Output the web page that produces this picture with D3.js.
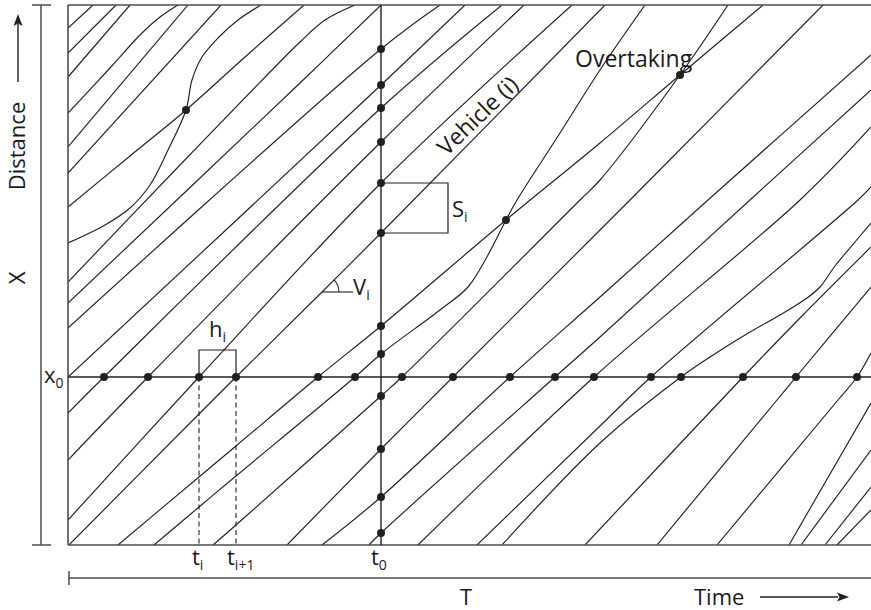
<!DOCTYPE html>
<html>
<head>
<meta charset="utf-8">
<script src="https://cdn.jsdelivr.net/npm/d3@7"></script>
<style>
  html, body { margin: 0; padding: 0; background: #fff; }
  svg text { font-family: "Open Sans", "Noto Sans", sans-serif; fill: #1a1a1a; font-weight: 500; }
</style>
</head>
<body>
<svg id="chart" width="871" height="610"></svg>
<script>
// ---- data (time t, distance x) in diagram units ----
const tMax = 803, xMax = 540;
const x0 = 168;          // observation location x0
const t0 = 313;          // observation instant t0

// vehicle trajectories: [t, x] points
const vehicleTrajectories = [
  [[0,517],[25,540]],
  [[0,492],[48,540]],
  [[0,468],[62,540]],
  [[0,432],[42,477],[72,510],[92,528],[110,540]],
  [[0,398],[120,540]],
  [[0,372],[153,540]],
  [[0,338],[62,389],[118,435],[177,488],[236,540]],
  [[0,302],[37,320],[62,337],[82,360],[100,395],[118,435],[124,465],[134,488],[150,507],[170,525],[193,540]],
  [[0,263],[112,380],[202,473],[232,503],[257,525],[287,540]],
  [[0,242],[232,462],[313,540]],
  [[0,217],[313,496],[372,540]],
  [[0,168],[313,460],[397,540]],
  [[0,132],[36,168],[313,437],[434,540]],
  [[0,85],[80,168],[313,403],[456,540]],
  [[0,25],[131,168],[313,362],[504,540]],
  [[1,0],[131,131],[168,168],[254,253],[313,312],[537,540]],
  [[50,0],[131,68],[168,99],[250,168],[313,219],[438,325],[532,402],[612,470],[695,540]],
  [[86,0],[131,38],[168,69],[287,168],[313,191],[372,235],[400,258],[420,290],[438,325],[449,345],[492,412],[532,475],[577,540]],
  [[145,0],[168,20],[313,149],[334,168],[512,345],[532,365],[612,470],[660,540]],
  [[219,0],[313,96],[385,168],[532,315],[562,345],[755,540]],
  [[254,0],[313,48],[442,168],[532,248],[640,345],[803,490]],
  [[301,0],[313,12],[487,168],[532,208],[682,345],[803,455]],
  [[350,0],[526,168],[732,345],[803,418]],
  [[409,0],[532,119],[583,168],[790,345],[803,358]],
  [[434,0],[532,102],[613,168],[642,188],[682,213],[712,230],[739,247],[752,258],[767,279],[792,309],[803,322]],
  [[517,0],[675,168],[732,227],[803,298]],
  [[589,0],[709,145],[728,168],[803,258]],
  [[649,0],[770,145],[789,168],[803,192]],
  [[721,0],[803,142]],
  [[733,0],[803,95]],
  [[757,0],[803,58]],
  [[769,0],[803,35]]
];

// passage times at x0 (headway observations)
const headwayTimes = [36, 80, 131, 168, 250, 287, 334, 385, 442, 487, 526, 583, 613, 675, 728, 789];
// positions at t0 (spacing observations)
const spacingPositions = [496, 460, 437, 403, 362, 312, 219, 191, 149, 96, 48, 12];
// overtaking events
const overtakingPoints = [[118, 435], [438, 325], [612, 470]];
// annotated pairs
const headwayPair = [131, 168];   // t_i, t_i+1
const spacingPair = [362, 312];   // s_i between consecutive vehicles at t0
const speedVertex = [254, 253];   // point where V_i angle is shown

// ---- scales ----
const T = d3.scaleLinear().domain([0, tMax]).range([68, 871]);
const X = d3.scaleLinear().domain([0, xMax]).range([545, 5]);

const svg = d3.select("#chart");
const ink = "#231f20";

svg.append("defs").append("clipPath").attr("id", "plotclip")
  .append("rect").attr("x", T(0)).attr("y", X(xMax)).attr("width", T(tMax) - T(0)).attr("height", X(0) - X(xMax));

// trajectories
const line = d3.line().x(d => T(d[0])).y(d => X(d[1])).curve(d3.curveCatmullRom.alpha(0.5));
svg.append("g").attr("clip-path", "url(#plotclip)")
  .selectAll("path").data(vehicleTrajectories).join("path")
  .attr("d", line).attr("fill", "none").attr("stroke", ink).attr("stroke-width", 1.15);

// frame
const frame = svg.append("g").attr("stroke", "#4d4d4f").attr("stroke-width", 1.6).attr("fill", "none");
frame.append("line").attr("x1", T(0)).attr("x2", T(tMax)).attr("y1", X(xMax)).attr("y2", X(xMax));
frame.append("line").attr("x1", T(0)).attr("x2", T(tMax)).attr("y1", X(0)).attr("y2", X(0));
frame.append("line").attr("x1", T(0)).attr("x2", T(0)).attr("y1", X(0)).attr("y2", X(xMax));
// x0 and t0 reference lines
frame.append("line").attr("x1", T(0)).attr("x2", T(tMax)).attr("y1", X(x0)).attr("y2", X(x0)).attr("stroke", ink).attr("stroke-width", 1.4);
frame.append("line").attr("x1", T(t0)).attr("x2", T(t0)).attr("y1", X(0)).attr("y2", X(xMax)).attr("stroke", ink).attr("stroke-width", 1.4);

// dashed t_i lines
svg.append("g").selectAll("line").data(headwayPair).join("line")
  .attr("x1", d => T(d)).attr("x2", d => T(d)).attr("y1", X(x0)).attr("y2", X(0))
  .attr("stroke", ink).attr("stroke-width", 1.1).attr("stroke-dasharray", "5,3.5");

// h_i bracket
const hTop = X(x0) - 27;
svg.append("path")
  .attr("d", `M${T(headwayPair[0])},${X(x0)} V${hTop} H${T(headwayPair[1])} V${X(x0)}`)
  .attr("fill", "none").attr("stroke", ink).attr("stroke-width", 1.2);
// S_i bracket
const sRight = T(t0) + 67;
svg.append("path")
  .attr("d", `M${T(t0)},${X(spacingPair[0])} H${sRight} V${X(spacingPair[1])} H${T(t0)}`)
  .attr("fill", "none").attr("stroke", ink).attr("stroke-width", 1.2);

// V_i angle
const vx = T(speedVertex[0]), vy = X(speedVertex[1]);
svg.append("line").attr("x1", vx).attr("x2", vx + 31).attr("y1", vy).attr("y2", vy).attr("stroke", ink).attr("stroke-width", 1.1);
const r = 17, a = Math.PI / 4;
svg.append("path").attr("d", `M${vx + r},${vy} A${r},${r} 0 0 0 ${vx + r * Math.cos(a)},${vy - r * Math.sin(a)}`)
  .attr("fill", "none").attr("stroke", ink).attr("stroke-width", 1.1);

// dots
const dots = [];
headwayTimes.forEach(t => dots.push([t, x0]));
spacingPositions.forEach(x => dots.push([t0, x]));
overtakingPoints.forEach(p => dots.push(p));
svg.append("g").selectAll("circle").data(dots).join("circle")
  .attr("cx", d => T(d[0])).attr("cy", d => X(d[1])).attr("r", 4).attr("fill", ink);

// left distance bracket
const yb = svg.append("g").attr("stroke", "#4d4d4f").attr("stroke-width", 1.5);
yb.append("line").attr("x1", 41).attr("x2", 41).attr("y1", X(xMax)).attr("y2", X(0));
yb.append("line").attr("x1", 32).attr("x2", 51).attr("y1", X(xMax)).attr("y2", X(xMax));
yb.append("line").attr("x1", 32).attr("x2", 51).attr("y1", X(0)).attr("y2", X(0));
// bottom time bracket
const tb = svg.append("g").attr("stroke", "#4d4d4f").attr("stroke-width", 1.5);
tb.append("line").attr("x1", T(0) + 1).attr("x2", T(tMax)).attr("y1", 578).attr("y2", 578);
tb.append("line").attr("x1", T(0) + 1).attr("x2", T(0) + 1).attr("y1", 571).attr("y2", 585);

// arrows
svg.append("line").attr("x1", 18).attr("x2", 18).attr("y1", 82).attr("y2", 24).attr("stroke", ink).attr("stroke-width", 1.4);
svg.append("path").attr("d", "M18,14 L13.5,26 L18,23.5 L22.5,26 Z").attr("fill", ink);
svg.append("line").attr("x1", 760).attr("x2", 838).attr("y1", 597).attr("y2", 597).attr("stroke", ink).attr("stroke-width", 1.4);
svg.append("path").attr("d", "M849,597 L837,592.5 L839.5,597 L837,601.5 Z").attr("fill", ink);

// text
const fs = 22, sub = 14;
svg.append("text").attr("transform", "translate(25,146) rotate(-90)").attr("text-anchor", "middle").attr("font-size", fs).text("Distance");
svg.append("text").attr("transform", "translate(25,278) rotate(-90)").attr("text-anchor", "middle").attr("font-size", fs).text("X");
svg.append("text").attr("x", 466).attr("y", 605).attr("text-anchor", "middle").attr("font-size", fs).text("T");
svg.append("text").attr("x", 694).attr("y", 605).attr("font-size", fs).text("Time");

function subLabel(x, y, main, s) {
  const t = svg.append("text").attr("x", x).attr("y", y).attr("font-size", fs);
  t.append("tspan").text(main);
  t.append("tspan").attr("font-size", sub).attr("dy", 5).text(s);
  return t;
}
subLabel(44, 383, "x", "0");
subLabel(192, 565, "t", "i");
subLabel(227, 565, "t", "i+1");
subLabel(371, 565, "t", "0");
subLabel(209, 337, "h", "i");
subLabel(452, 217, "S", "i");
subLabel(353, 295, "V", "i");

svg.append("text").attr("x", 575).attr("y", 67).attr("font-size", fs + 1).text("Overtaking");
svg.append("text").attr("transform", "translate(477,115) rotate(-44)").attr("text-anchor", "middle")
  .attr("dominant-baseline", "central").attr("font-size", fs + 1).text("Vehicle (i)");
</script>
</body>
</html>
